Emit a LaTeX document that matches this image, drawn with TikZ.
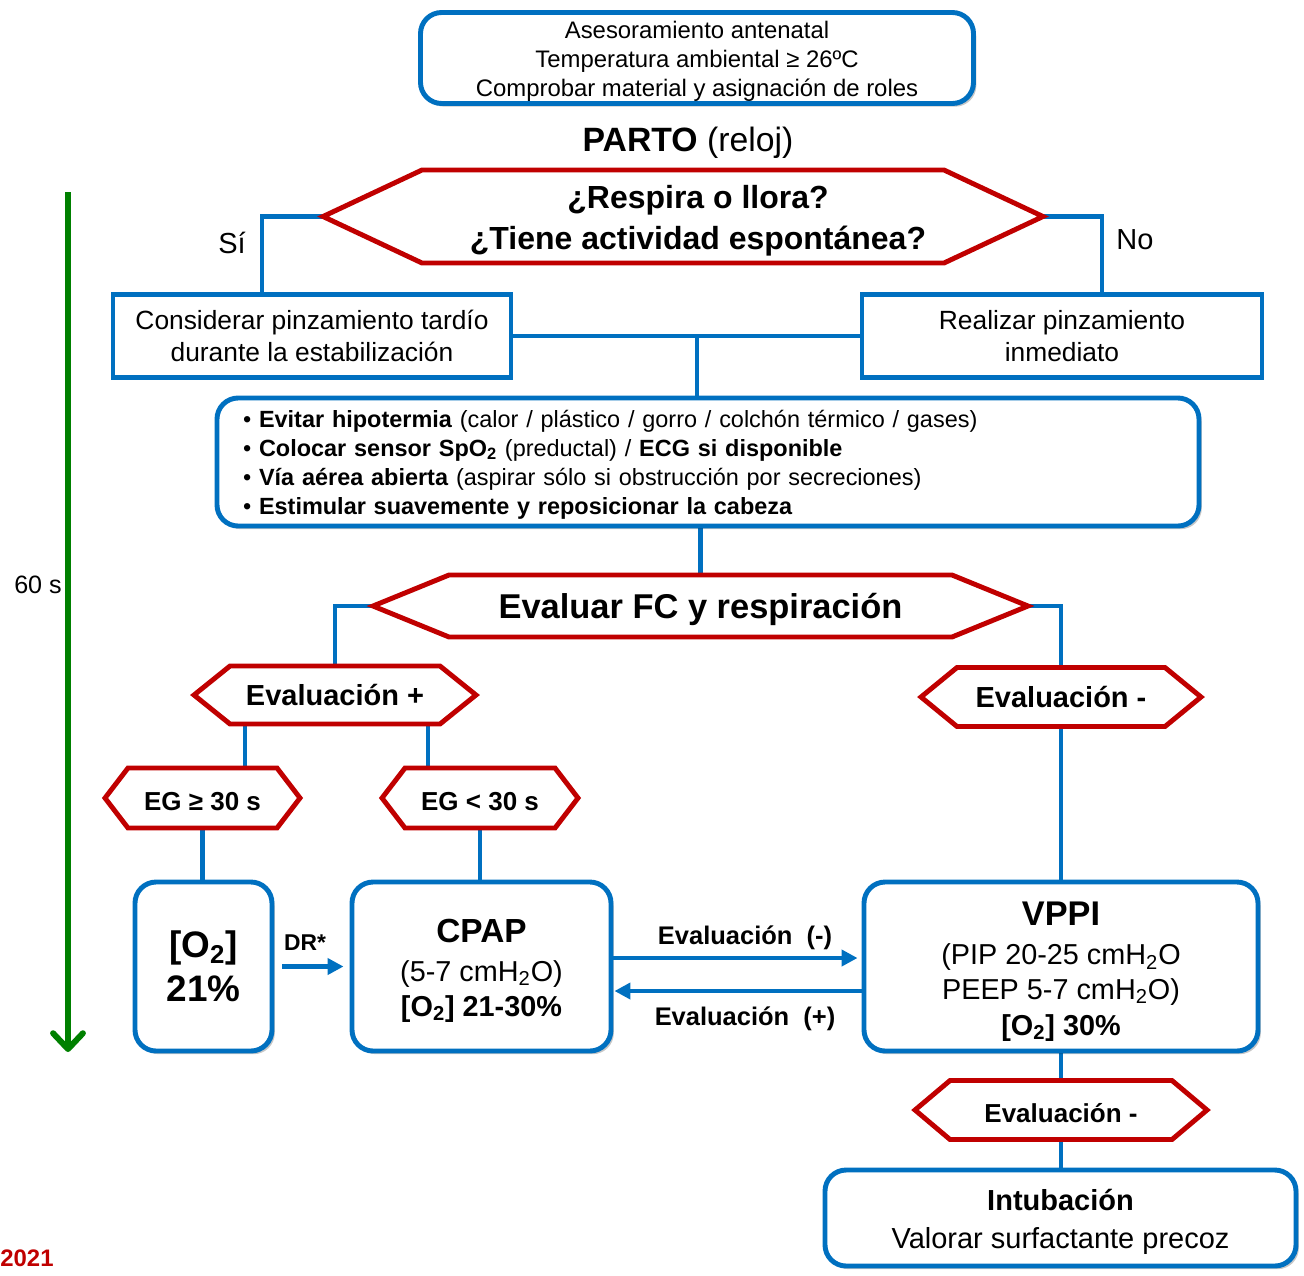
\documentclass[tikz,border=0pt]{standalone}
\usepackage{fontspec}
\setmainfont{Liberation Sans}
\usetikzlibrary{arrows.meta,shadows,calc}
\definecolor{myblue}{HTML}{0070C0}
\definecolor{myred}{HTML}{C00000}
\definecolor{mygreen}{HTML}{008000}
\def\pxu{0.02cm}
\newcommand{\fsz}[2]{\fontsize{#1}{#2}\selectfont}
\newcommand{\tst}[1]{\rule{0pt}{#1}}
\pgfdeclarelayer{bglines}
\pgfdeclarelayer{hexes}
\pgfsetlayers{bglines,hexes,main}
\tikzset{
  hexinner/.style={draw=none, inner sep=0pt, outer sep=0pt, align=center},
  hexline/.style={draw=myred, line width=2.8pt, fill=white, line join=miter},
  rbox/.style={draw=myblue, line width=2.8pt, fill=white, rounded corners=12pt, align=center, inner sep=0pt,
    drop shadow={shadow xshift=1.6pt, shadow yshift=-1.8pt, fill=black, opacity=0.22}},
  sbox/.style={draw=myblue, line width=2.6pt, fill=white, align=center, inner sep=0pt},
  conn/.style={draw=myblue, line width=2.3pt},
  aconn/.style={draw=myblue, line width=2.3pt, -{Triangle[length=9pt,width=9pt]}},
  lbl/.style={inner sep=0pt, align=center},
}
\newcommand{\hexbox}[7]{%
  \node[hexinner, minimum width=#3*\pxu, minimum height=#4*\pxu, font={#6}] (#1) at #2 {#7};
  \coordinate (#1-l) at ([xshift=-#5*\pxu]#1.west);
  \coordinate (#1-r) at ([xshift=#5*\pxu]#1.east);
  \begin{pgfonlayer}{hexes}
  \draw[hexline] (#1.north west) -- (#1.north east) -- (#1-r) -- (#1.south east) -- (#1.south west) -- (#1-l) -- cycle;
  \end{pgfonlayer}
}
\begin{document}
\begin{tikzpicture}[x=0.02cm, y=-0.02cm]
\useasboundingbox (0,0) rectangle (1304,1275);

% top box
\node[rbox, minimum width=553*\pxu, minimum height=91*\pxu, font=\fsz{13.6}{16.5}] (top) at (697,58)
  {\tst{13.3pt}Asesoramiento antenatal\\Temperatura ambiental ≥ 26ºC\\Comprobar material y asignación de roles};
\node[lbl, font=\fsz{19.2}{22}] (parto) at (688,143) {\textbf{PARTO} (reloj)};

% first question
\hexbox{hex1}{(683,216.5)}{522}{93}{99}{\bfseries\fsz{18.2}{23.3}}{\hspace*{0.6cm}\tst{17.9pt}¿Respira o llora?\\\hspace*{0.6cm}¿Tiene actividad espontánea?}
\node[lbl, font=\fsz{16.5}{20}] (si) at (232,243) {Sí};
\node[lbl, font=\fsz{16.5}{20}] (no) at (1135,240) {No};

\node[sbox, minimum width=398*\pxu, minimum height=83*\pxu, font=\fsz{15}{18.2}] (left) at (312,336)
  {Considerar pinzamiento tardío\\durante la estabilización};
\node[sbox, minimum width=400*\pxu, minimum height=83*\pxu, font=\fsz{15}{18.2}] (right) at (1062,336)
  {Realizar pinzamiento\\inmediato};

% bullets box
\node[rbox, minimum height=128*\pxu, text width=930*\pxu, inner xsep=26*\pxu, align=left, font=\fsz{13.35}{16.5}] (bul) at (708,462)
  {\tst{12.6pt}• \textbf{Evitar hipotermia} (calor / plástico / gorro / colchón térmico / gases)\\
   • \textbf{Colocar sensor SpO\textsubscript{2}} (preductal) / \textbf{ECG si disponible}\\
   • \textbf{Vía aérea abierta} (aspirar sólo si obstrucción por secreciones)\\
   • \textbf{Estimular suavemente y reposicionar la cabeza}};

% evaluation
\hexbox{hex2}{(700.5,606)}{503}{62}{76}{\bfseries\fsz{19.6}{23}}{\tst{18.1pt}Evaluar FC y respiración}
\hexbox{evp}{(335,695)}{210}{58}{36}{\bfseries\fsz{16.5}{20}}{Evaluación +}
\hexbox{evm}{(1061,697)}{208}{59}{36}{\bfseries\fsz{16.5}{20}}{Evaluación -}
\hexbox{egA}{(202.5,798)}{149}{60}{23}{\bfseries\fsz{14.8}{18}}{\tst{14pt}EG ≥ 30 s}
\hexbox{egB}{(480,798)}{150}{60}{23}{\bfseries\fsz{14.8}{18}}{\tst{14pt}EG < 30 s}

% bottom boxes
\node[rbox, minimum width=137*\pxu, minimum height=169*\pxu, font=\bfseries\fsz{21}{25}] (o2) at (203.5,966.5)
  {[O\textsubscript{2}]\\21\%};
\node[rbox, minimum width=259*\pxu, minimum height=169*\pxu, font=\fsz{16.4}{20}] (cpap) at (481.5,966.5)
  {{\bfseries\fsz{19}{22}\tst{18.2pt}CPAP}\\[2pt](5-7 cmH\textsubscript{2}O)\\\textbf{[O\textsubscript{2}] 21-30\%}};
\node[rbox, minimum width=394*\pxu, minimum height=169*\pxu, font=\fsz{16.4}{19.5}] (vppi) at (1061,966.5)
  {{\bfseries\fsz{19.5}{22}\tst{19.1pt}VPPI}\\[3pt](PIP 20-25 cmH\textsubscript{2}O\\PEEP 5-7 cmH\textsubscript{2}O)\\[1pt]\textbf{[O\textsubscript{2}] 30\%}};
\hexbox{evm2}{(1061,1110)}{222}{59}{35}{\bfseries\fsz{14.8}{18}}{\tst{14.5pt}Evaluación -}
\node[rbox, minimum width=471*\pxu, minimum height=96*\pxu, font=\fsz{16.5}{22}] (intub) at (1060.5,1218)
  {\tst{16.4pt}\textbf{Intubación}\\Valorar surfactante precoz};

% labels on arrows
\node[lbl, font=\bfseries\fsz{13}{15}] (dr) at (305,943) {DR*};
\node[lbl, font=\bfseries\fsz{14.5}{17}] (lm) at (745,938) {Evaluación\ \ (-)};
\node[lbl, font=\bfseries\fsz{14.5}{17}] (lp) at (745,1019) {Evaluación\ \ (+)};

% side
\coordinate (gtop) at (68,192);
\coordinate (gbot) at (68,1052);
\draw[draw=mygreen, line width=3.4pt, -{Straight Barb[length=9pt,width=17pt,round]}] (gtop) -- (gbot);
\node[lbl, font=\fsz{14.3}{17}] (sixty) at (38,585) {60 s};
\node[lbl, font=\bfseries\fsz{13.6}{16}, text=myred] (year) at (27,1258) {2021};

% connectors
\coordinate (bt) at ($(bul.north)+(-11,0)$);
\coordinate (dA) at ($(evp.south)+(-90,0)$);
\coordinate (dB) at ($(evp.south)+(93,0)$);
\begin{pgfonlayer}{bglines}
\draw[conn] (hex1-l) -| ([xshift=-50*\pxu]left.north);
\draw[conn] (hex1-r) -| ([xshift=40*\pxu]right.north);
\draw[conn] (left.east) -- (right.west);
\draw[conn] (bt |- left.east) -- (bt);
\draw[conn] (bul.south -| hex2.north) -- (hex2.north);
\draw[conn] (hex2-l) -| (evp.north);
\draw[conn] (hex2-r) -| (evm.north);
\draw[conn] (dA) -- (dA |- egA.north);
\draw[conn] (dB) -- (dB |- egB.north);
\draw[conn] (egA.south) -- (egA.south |- o2.north);
\draw[conn] (egB.south) -- (egB.south |- cpap.north);
\draw[conn] (evm.south) -- (evm.south |- vppi.north);
\draw[conn] (vppi.south) -- (vppi.south |- evm2.north);
\draw[conn] (evm2.south) -- (evm2.south |- intub.north);
\end{pgfonlayer}
\draw[aconn, shorten <=8*\pxu, shorten >=6*\pxu] (o2.east) -- (cpap.west);
\draw[aconn, shorten >=4*\pxu] ([yshift=8.5*\pxu]cpap.east) -- ([yshift=8.5*\pxu]vppi.west);
\draw[aconn, shorten >=1*\pxu] ([yshift=-24.5*\pxu]vppi.west) -- ([yshift=-24.5*\pxu]cpap.east);
\end{tikzpicture}
\end{document}
